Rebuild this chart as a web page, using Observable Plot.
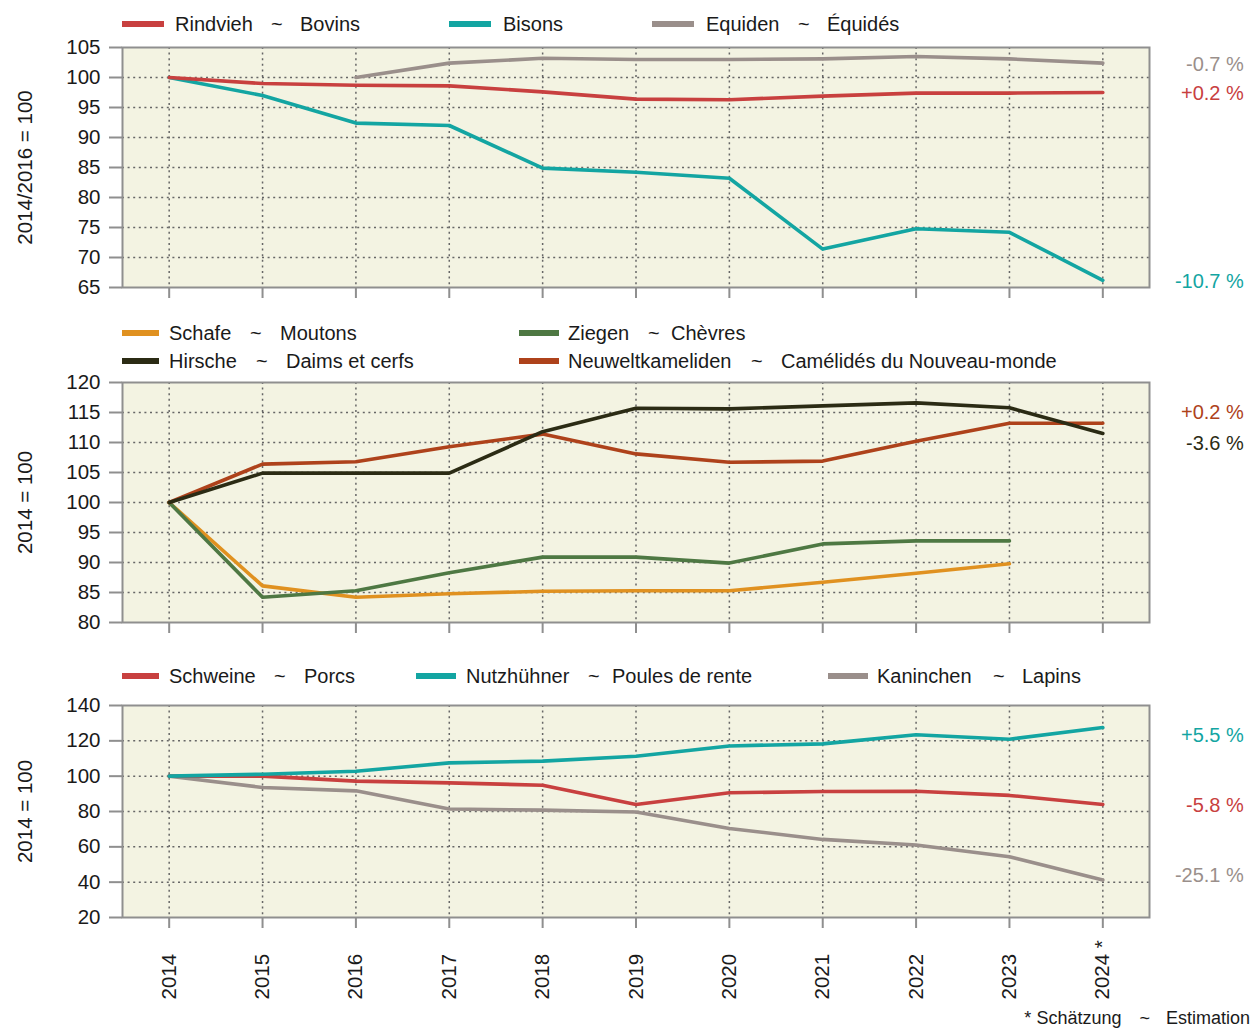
<!DOCTYPE html>
<html>
<head>
<meta charset="utf-8">
<script src="https://cdn.jsdelivr.net/npm/d3@7"></script>
<script src="https://cdn.jsdelivr.net/npm/@observablehq/plot@0.6"></script>
<style>
  html, body { margin: 0; padding: 0; background: #ffffff; }
  #root { position: relative; width: 1254px; height: 1030px; overflow: hidden;
          font-family: "Liberation Sans", Arial, sans-serif; font-size: 20px; color: #1a1a1a; }
  .abs { position: absolute; white-space: nowrap; line-height: 1; }
  .sw { position: absolute; height: 6px; }
  svg { position: absolute; left: 0; }
</style>
</head>
<body>
<div id="root"></div>
<script>
// ---------- DATA ----------
const years = [2014, 2015, 2016, 2017, 2018, 2019, 2020, 2021, 2022, 2023, 2024];
const yearLabels = ["2014", "2015", "2016", "2017", "2018", "2019", "2020", "2021", "2022", "2023", "2024 *"];

// Panel 1 (2014/2016 = 100)
const rindvieh = [100, 99.0, 98.7, 98.6, 97.6, 96.4, 96.3, 96.9, 97.4, 97.4, 97.5];
const bisons   = [100, 97.0, 92.4, 92.0, 84.9, 84.2, 83.2, 71.4, 74.8, 74.2, 66.2];
const equiden  = [null, null, 100, 102.4, 103.2, 103.0, 103.0, 103.1, 103.5, 103.1, 102.4];

// Panel 2 (2014 = 100)
const schafe   = [100, 86.1, 84.2, 84.8, 85.2, 85.3, 85.3, 86.7, 88.2, 89.8, null];
const ziegen   = [100, 84.2, 85.3, 88.3, 90.9, 90.9, 89.9, 93.1, 93.6, 93.6, null];
const hirsche  = [100, 104.9, 104.9, 104.9, 111.8, 115.7, 115.6, 116.1, 116.6, 115.8, 111.5];
const neuwelt  = [100, 106.4, 106.8, 109.3, 111.4, 108.1, 106.7, 106.9, 110.2, 113.2, 113.2];

// Panel 3 (2014 = 100)
const schweine  = [100, 100.0, 97.2, 96.2, 94.9, 84.0, 90.6, 91.3, 91.5, 89.1, 84.0];
const huehner   = [100, 101.1, 102.8, 107.5, 108.5, 111.3, 117.1, 118.3, 123.4, 120.9, 127.5];
const kaninchen = [100, 93.6, 91.7, 81.4, 80.8, 79.7, 70.4, 64.2, 61.0, 54.4, 41.2];

// Change labels (text and value position where placed)
const changeLabels1 = [
  {series: "Equiden", text: "-0.7 %", at: 102.2},
  {series: "Rindvieh", text: "+0.2 %", at: 97.3},
  {series: "Bisons", text: "-10.7 %", at: 66.0}
];
const changeLabels2 = [
  {series: "Neuwelt", text: "+0.2 %", at: 115.0},
  {series: "Hirsche", text: "-3.6 %", at: 109.8}
];
const changeLabels3 = [
  {series: "Huehner", text: "+5.5 %", at: 123.2},
  {series: "Schweine", text: "-5.8 %", at: 83.6},
  {series: "Kaninchen", text: "-25.1 %", at: 44.0}
];

const yTicks1 = [65, 70, 75, 80, 85, 90, 95, 100, 105];
const yTicks2 = [80, 85, 90, 95, 100, 105, 110, 115, 120];
const yTicks3 = [20, 40, 60, 80, 100, 120, 140];

const axisLabel1 = "2014/2016 = 100";
const axisLabel23 = "2014 = 100";
const footnote = ["*", "Schätzung", "~", "Estimation"];

// ---------- STYLE ----------
const C = {
  red: "#c8403f", teal: "#13a5a2", grey: "#9a8f8b",
  orange: "#e09120", green: "#4e7843", dark: "#2b2b14", rust: "#ae421b",
  bg: "#f3f3e2", frame: "#8f8f8f", grid: "#666666", text: "#1a1a1a"
};
const seriesColor = {
  Rindvieh: C.red, Bisons: C.teal, Equiden: C.grey,
  Schafe: C.orange, Ziegen: C.green, Hirsche: C.dark, Neuwelt: C.rust,
  Schweine: C.red, Huehner: C.teal, Kaninchen: C.grey
};
const FONT = "'Liberation Sans', Arial, sans-serif";

function rows(values) {
  return years.map((year, i) => ({year, value: values[i]})).filter(d => d.value != null);
}

const root = document.getElementById("root");

function panel({top, height, marginBottom, yDomain, yTicks, series, labels, axisLabel, yearText}) {
  const marks = [
    Plot.frame({fill: C.bg, stroke: null}),
    Plot.gridX(years, {stroke: C.grid, strokeOpacity: 1, strokeWidth: 1.5, strokeDasharray: "2,3.6"}),
    Plot.gridY(yTicks.slice(1, -1), {stroke: C.grid, strokeOpacity: 1, strokeWidth: 1.5, strokeDasharray: "2,3.6"}),
    Plot.axisY({ticks: yTicks, tickSize: 13, tickPadding: 9, label: null, stroke: C.frame, strokeWidth: 2, fill: C.text, fontSize: 20.5}),
    Plot.axisX({ticks: years, tickSize: 11, tickFormat: () => "", label: null, stroke: C.frame, strokeWidth: 2}),
    Plot.frame({stroke: C.frame, strokeWidth: 2, fill: null})
  ];
  for (const [name, values] of series) {
    marks.push(Plot.line(rows(values), {x: "year", y: "value", stroke: seriesColor[name], strokeWidth: 3.6, strokeLinejoin: "round"}));
  }
  for (const l of labels) {
    marks.push(Plot.text([l], {x: () => 2024, y: "at", text: "text", fill: seriesColor[l.series], textAnchor: "end", dx: 141, fontSize: 20}));
  }
  marks.push(Plot.text([axisLabel], {frameAnchor: "left", rotate: -90, textAnchor: "middle", lineAnchor: "middle", dx: -97, fill: C.text, fontSize: 20.5}));
  if (yearText) {
    marks.push(Plot.text(years.map((y, i) => ({year: y, label: yearLabels[i]})),
      {x: "year", text: "label", frameAnchor: "bottom", rotate: -90, textAnchor: "start", lineAnchor: "middle", dy: 82, fill: C.text, fontSize: 20.5}));
  }
  const svg = Plot.plot({
    width: 1254, height,
    marginLeft: 122, marginRight: 105, marginTop: 10, marginBottom,
    x: {domain: [2013.5, 2024.5]},
    y: {domain: yDomain},
    style: {fontFamily: FONT, fontSize: "20px", color: C.text, background: "transparent", overflow: "visible"},
    marks
  });
  svg.style.top = top + "px";
  root.appendChild(svg);
}

function legend(items) {
  for (const it of items) {
    const sw = document.createElement("div");
    sw.className = "sw";
    sw.style.left = it.sw[0] + "px";
    sw.style.width = (it.sw[1] - it.sw[0]) + "px";
    sw.style.top = (it.y - 3) + "px";
    sw.style.background = seriesColor[it.key];
    root.appendChild(sw);
    it.parts.forEach(([txt, left]) => {
      const s = document.createElement("div");
      s.className = "abs";
      s.textContent = txt;
      s.style.left = left + "px";
      s.style.top = (it.y - 10) + "px";
      root.appendChild(s);
    });
  }
}

// Panel 1
legend([
  {key: "Rindvieh", y: 24, sw: [122, 164], parts: [["Rindvieh", 175], ["~", 271], ["Bovins", 300]]},
  {key: "Bisons", y: 24, sw: [449, 491], parts: [["Bisons", 503]]},
  {key: "Equiden", y: 24, sw: [652, 694], parts: [["Equiden", 706], ["~", 798], ["Équidés", 827]]}
]);
panel({top: 37, height: 263, marginBottom: 13, yDomain: [65, 105], yTicks: yTicks1,
  series: [["Equiden", equiden], ["Bisons", bisons], ["Rindvieh", rindvieh]],
  labels: changeLabels1, axisLabel: axisLabel1});

// Panel 2
legend([
  {key: "Schafe", y: 333, sw: [122, 159], parts: [["Schafe", 169], ["~", 250], ["Moutons", 280]]},
  {key: "Ziegen", y: 333, sw: [519, 559], parts: [["Ziegen", 568], ["~", 648], ["Chèvres", 671]]},
  {key: "Hirsche", y: 361, sw: [122, 159], parts: [["Hirsche", 169], ["~", 256], ["Daims et cerfs", 286]]},
  {key: "Neuwelt", y: 361, sw: [519, 559], parts: [["Neuweltkameliden", 568], ["~", 751], ["Camélidés du Nouveau-monde", 781]]}
]);
panel({top: 372, height: 263, marginBottom: 13, yDomain: [80, 120], yTicks: yTicks2,
  series: [["Schafe", schafe], ["Ziegen", ziegen], ["Neuwelt", neuwelt], ["Hirsche", hirsche]],
  labels: changeLabels2, axisLabel: axisLabel23});

// Panel 3
legend([
  {key: "Schweine", y: 676, sw: [122, 159], parts: [["Schweine", 169], ["~", 274], ["Porcs", 304]]},
  {key: "Huehner", y: 676, sw: [416, 456], parts: [["Nutzhühner", 466], ["~", 588], ["Poules de rente", 612]]},
  {key: "Kaninchen", y: 676, sw: [828, 868], parts: [["Kaninchen", 877], ["~", 993], ["Lapins", 1022]]}
]);
panel({top: 695, height: 332, marginBottom: 110, yDomain: [20, 140], yTicks: yTicks3,
  series: [["Kaninchen", kaninchen], ["Schweine", schweine], ["Huehner", huehner]],
  labels: changeLabels3, axisLabel: axisLabel23, yearText: true});

// Footnote (right-aligned)
const fn = document.createElement("div");
fn.className = "abs";
fn.style.right = "4px";
fn.style.top = "1009px";
fn.style.fontSize = "18px";
fn.innerHTML = `<span>${footnote[0]}</span><span style="margin-left:5px">${footnote[1]}</span>` +
  `<span style="margin-left:18px">${footnote[2]}</span><span style="margin-left:16px">${footnote[3]}</span>`;
root.appendChild(fn);
</script>
</body>
</html>
